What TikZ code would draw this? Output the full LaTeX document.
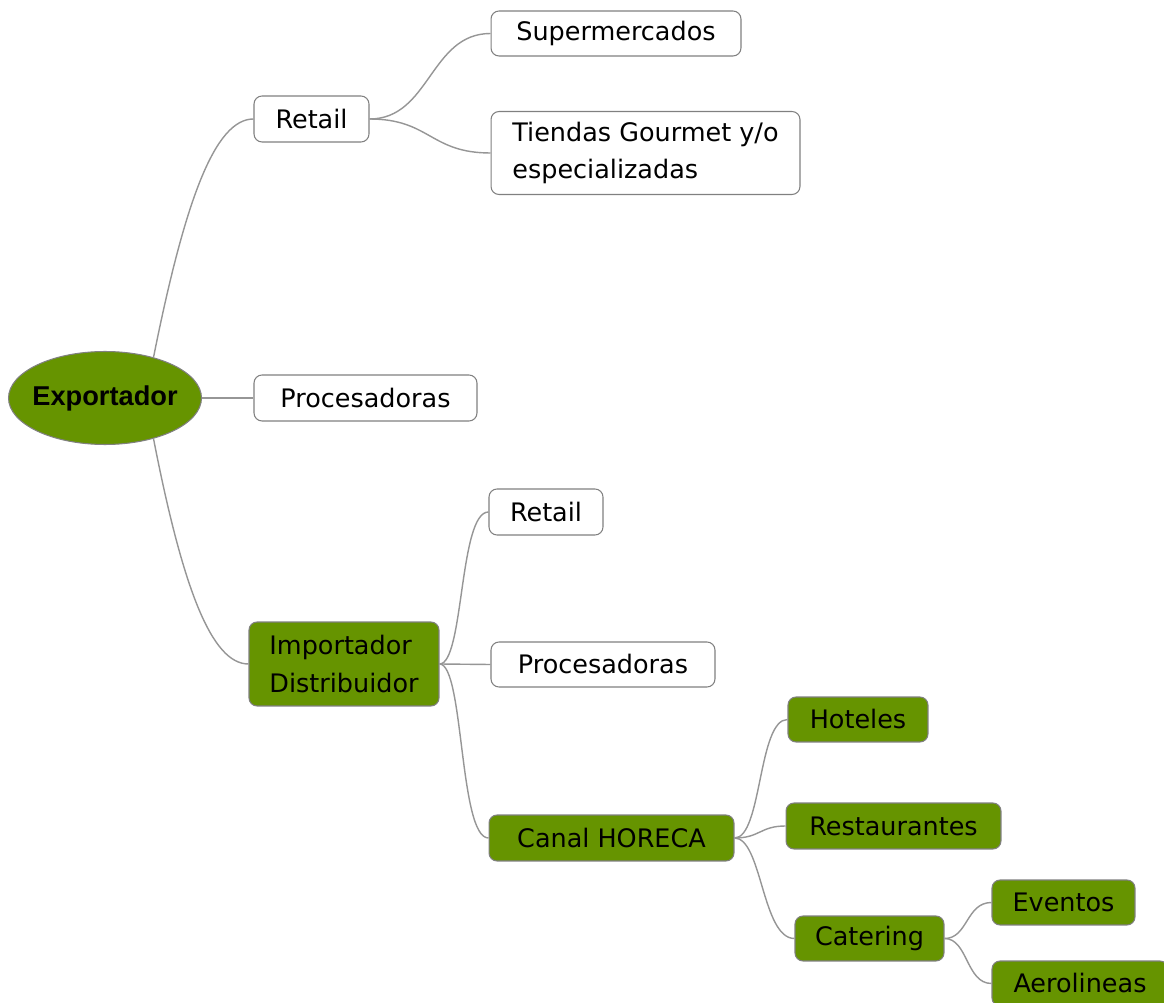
\documentclass[tikz,border=0pt]{standalone}
\usepackage{fontspec}
\setmainfont{DejaVu Sans}
\newfontfamily\boldlab{Liberation Sans}
\usetikzlibrary{shapes.geometric}
\definecolor{leaf}{RGB}{102,148,0}
\definecolor{edgegray}{RGB}{150,150,150}
\definecolor{framegray}{RGB}{128,128,128}
\tikzset{
  wbox/.style={draw=framegray, fill=white, rounded corners=0.16cm, line width=0.6pt, inner sep=0pt,
    font=\fontsize{14.5}{21.5}\selectfont, align=left, text=black},
  gbox/.style={wbox, fill=leaf},
  conn/.style={draw=edgegray, line width=0.8pt}
}
\begin{document}
\begin{tikzpicture}[x=0.02cm,y=-0.02cm]
\clip (0,0) rectangle (1164,1003);
\fill[white] (0,0) rectangle (1164,1003);

\node[ellipse, draw=framegray, fill=leaf, line width=0.6pt, minimum width=3.86cm, minimum height=1.86cm,
  inner xsep=-3pt, inner ysep=0pt,
  font=\boldlab\bfseries\fontsize{15.5}{18}\selectfont] (exp) at (105,398) {Exportador};

\node[wbox, minimum width=2.30cm, minimum height=0.92cm] (ret1) at (311.5,119) {Retail};
\node[wbox, minimum width=5.00cm, minimum height=0.90cm] (sup) at (616,33.5) {Supermercados};
\node[wbox, minimum width=6.18cm, minimum height=1.66cm] (tie) at (645.5,153) {Tiendas Gourmet y/o\\especializadas};
\path[use as bounding box] (0,0) rectangle (1164,1003);
\node[wbox, minimum width=4.46cm, minimum height=0.92cm] (pro1) at (365.5,398) {Procesadoras};
\node[gbox, minimum width=3.80cm, minimum height=1.68cm] (imp) at (344,664) {Importador\\Distribuidor};
\node[wbox, minimum width=2.28cm, minimum height=0.92cm] (ret2) at (546,512) {Retail};
\node[wbox, minimum width=4.48cm, minimum height=0.90cm] (pro2) at (603,664.5) {Procesadoras};
\node[gbox, minimum width=4.90cm, minimum height=0.92cm] (hor) at (611.5,838) {Canal HORECA};
\node[gbox, minimum width=2.80cm, minimum height=0.90cm] (hot) at (858,719.5) {Hoteles};
\node[gbox, minimum width=4.30cm, minimum height=0.92cm] (res) at (893.5,826) {Restaurantes};
\node[gbox, minimum width=2.98cm, minimum height=0.90cm] (cat) at (869.5,938.5) {Catering};
\node[gbox, minimum width=2.86cm, minimum height=0.90cm] (eve) at (1063.5,902.5) {Eventos};
\node[gbox, minimum width=3.52cm, minimum height=0.90cm] (aer) at (1080,983.5) {Aerolineas};

\draw[conn] (exp.40) .. controls (185,200) and (215,119) .. (ret1.west);
\draw[conn] (exp.east) -- (pro1.west);
\draw[conn] (exp.-40) .. controls (183,590) and (212,664) .. (imp.west);

\draw[conn] (ret1.east) .. controls (430,119) and (430,33.5) .. (sup.west);
\draw[conn] (ret1.east) .. controls (430,119) and (430,153) .. (tie.west);

\draw[conn] (imp.east) .. controls (464,664) and (459,512) .. (ret2.west);
\draw[conn] (imp.east) -- (pro2.west);
\draw[conn] (imp.east) .. controls (464,664) and (459,838) .. (hor.west);

\draw[conn] (hor.east) .. controls (762,838) and (758,719.5) .. (hot.west);
\draw[conn] (hor.east) .. controls (760,838) and (760,826) .. (res.west);
\draw[conn] (hor.east) .. controls (762,838) and (762,938.5) .. (cat.west);

\draw[conn] (cat.east) .. controls (968,938.5) and (966,902.5) .. (eve.west);
\draw[conn] (cat.east) .. controls (968,938.5) and (966,983.5) .. (aer.west);
\end{tikzpicture}
\end{document}
